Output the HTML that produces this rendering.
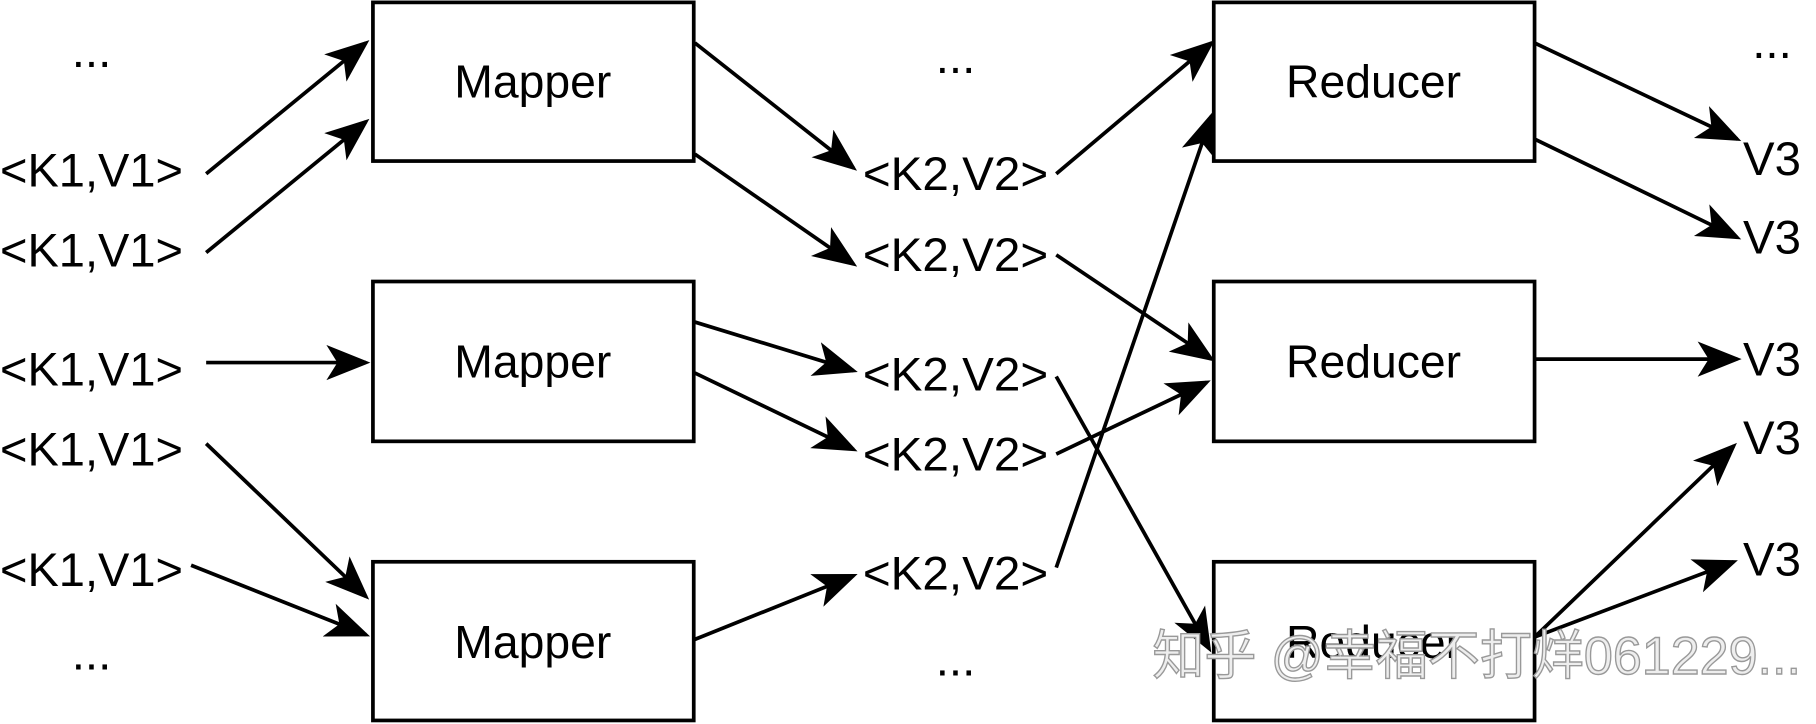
<!DOCTYPE html>
<html><head><meta charset="utf-8"><style>html,body{margin:0;padding:0;background:#fff}svg{display:block}</style></head>
<body>
<svg width="1816" height="724" viewBox="0 0 1568 625" xmlns="http://www.w3.org/2000/svg">
<defs>
<marker id="b" viewBox="0 0 10 10" refX="9" refY="5" markerWidth="38" markerHeight="38" markerUnits="userSpaceOnUse" orient="auto"><path d="M0,1 L10,5 L0,9 L2.5,5 z" fill="#000"/></marker></defs>
<g fill="#fff" stroke="#000" stroke-width="3.2">
<rect x="322" y="2" width="277" height="137"/><rect x="322" y="243" width="277" height="138"/><rect x="322" y="485" width="277" height="137"/>
<rect x="1048" y="2" width="277" height="137"/><rect x="1048" y="243" width="277" height="138"/><rect x="1048" y="485" width="277" height="137"/>
</g>
<g font-family="Liberation Sans, sans-serif" font-size="41" fill="#000">
<text x="460" y="84" text-anchor="middle" font-size="40">Mapper</text><text x="460" y="326" text-anchor="middle" font-size="40">Mapper</text><text x="460" y="568" text-anchor="middle" font-size="40">Mapper</text>
<text x="1186" y="84" text-anchor="middle" font-size="40">Reducer</text><text x="1186" y="326" text-anchor="middle" font-size="40">Reducer</text><text x="1186" y="568" text-anchor="middle" font-size="40">Reducer</text>
<text x="79" y="58" text-anchor="middle">...</text><text x="79" y="578" text-anchor="middle">...</text>
<text x="825" y="63" text-anchor="middle">...</text><text x="825" y="583" text-anchor="middle">...</text>
<text x="1530" y="50" text-anchor="middle">...</text>
<text x="0" y="161" textLength="158" lengthAdjust="spacingAndGlyphs">&lt;K1,V1&gt;</text><text x="0" y="230" textLength="158" lengthAdjust="spacingAndGlyphs">&lt;K1,V1&gt;</text><text x="0" y="333" textLength="158" lengthAdjust="spacingAndGlyphs">&lt;K1,V1&gt;</text><text x="0" y="402" textLength="158" lengthAdjust="spacingAndGlyphs">&lt;K1,V1&gt;</text><text x="0" y="506" textLength="158" lengthAdjust="spacingAndGlyphs">&lt;K1,V1&gt;</text>
<text x="745" y="164" textLength="160" lengthAdjust="spacingAndGlyphs">&lt;K2,V2&gt;</text><text x="745" y="234" textLength="160" lengthAdjust="spacingAndGlyphs">&lt;K2,V2&gt;</text><text x="745" y="337" textLength="160" lengthAdjust="spacingAndGlyphs">&lt;K2,V2&gt;</text><text x="745" y="406" textLength="160" lengthAdjust="spacingAndGlyphs">&lt;K2,V2&gt;</text><text x="745" y="509" textLength="160" lengthAdjust="spacingAndGlyphs">&lt;K2,V2&gt;</text>
<text x="1505" y="151" textLength="50" lengthAdjust="spacingAndGlyphs">V3</text><text x="1505" y="219" textLength="50" lengthAdjust="spacingAndGlyphs">V3</text><text x="1505" y="324" textLength="50" lengthAdjust="spacingAndGlyphs">V3</text><text x="1505" y="392" textLength="50" lengthAdjust="spacingAndGlyphs">V3</text><text x="1505" y="497" textLength="50" lengthAdjust="spacingAndGlyphs">V3</text>
</g>
<g stroke="#000" stroke-width="3.2" fill="none" marker-end="url(#b)">
<line x1="178" y1="150" x2="316" y2="37"/><line x1="178" y1="218" x2="316" y2="105"/><line x1="178" y1="313" x2="316" y2="313"/>
<line x1="178" y1="383" x2="316" y2="515"/><line x1="165" y1="488" x2="316" y2="548"/>
<line x1="600" y1="37" x2="737" y2="145"/><line x1="600" y1="133" x2="737" y2="228"/><line x1="600" y1="278" x2="737" y2="320"/>
<line x1="600" y1="322" x2="737" y2="388"/><line x1="600" y1="552" x2="737" y2="497"/>
<line x1="912" y1="150" x2="1046" y2="37"/><line x1="912" y1="220" x2="1046" y2="310"/><line x1="912" y1="325" x2="1044" y2="560"/>
<line x1="912" y1="392" x2="1042" y2="330"/><line x1="912" y1="490" x2="1046" y2="100"/>
<line x1="1325" y1="37" x2="1500" y2="120"/><line x1="1325" y1="120" x2="1500" y2="205"/><line x1="1325" y1="310" x2="1500" y2="310"/>
<line x1="1325" y1="550" x2="1497" y2="385"/><line x1="1325" y1="550" x2="1497" y2="485"/>
</g>
<text x="995" y="582" font-family="Liberation Sans, 'Noto Sans CJK SC', sans-serif" font-size="46" fill="#eee" stroke="#999" stroke-width="1.2" textLength="560" lengthAdjust="spacingAndGlyphs">知乎 @幸福不打烊061229...</text>
</svg>
</body></html>
